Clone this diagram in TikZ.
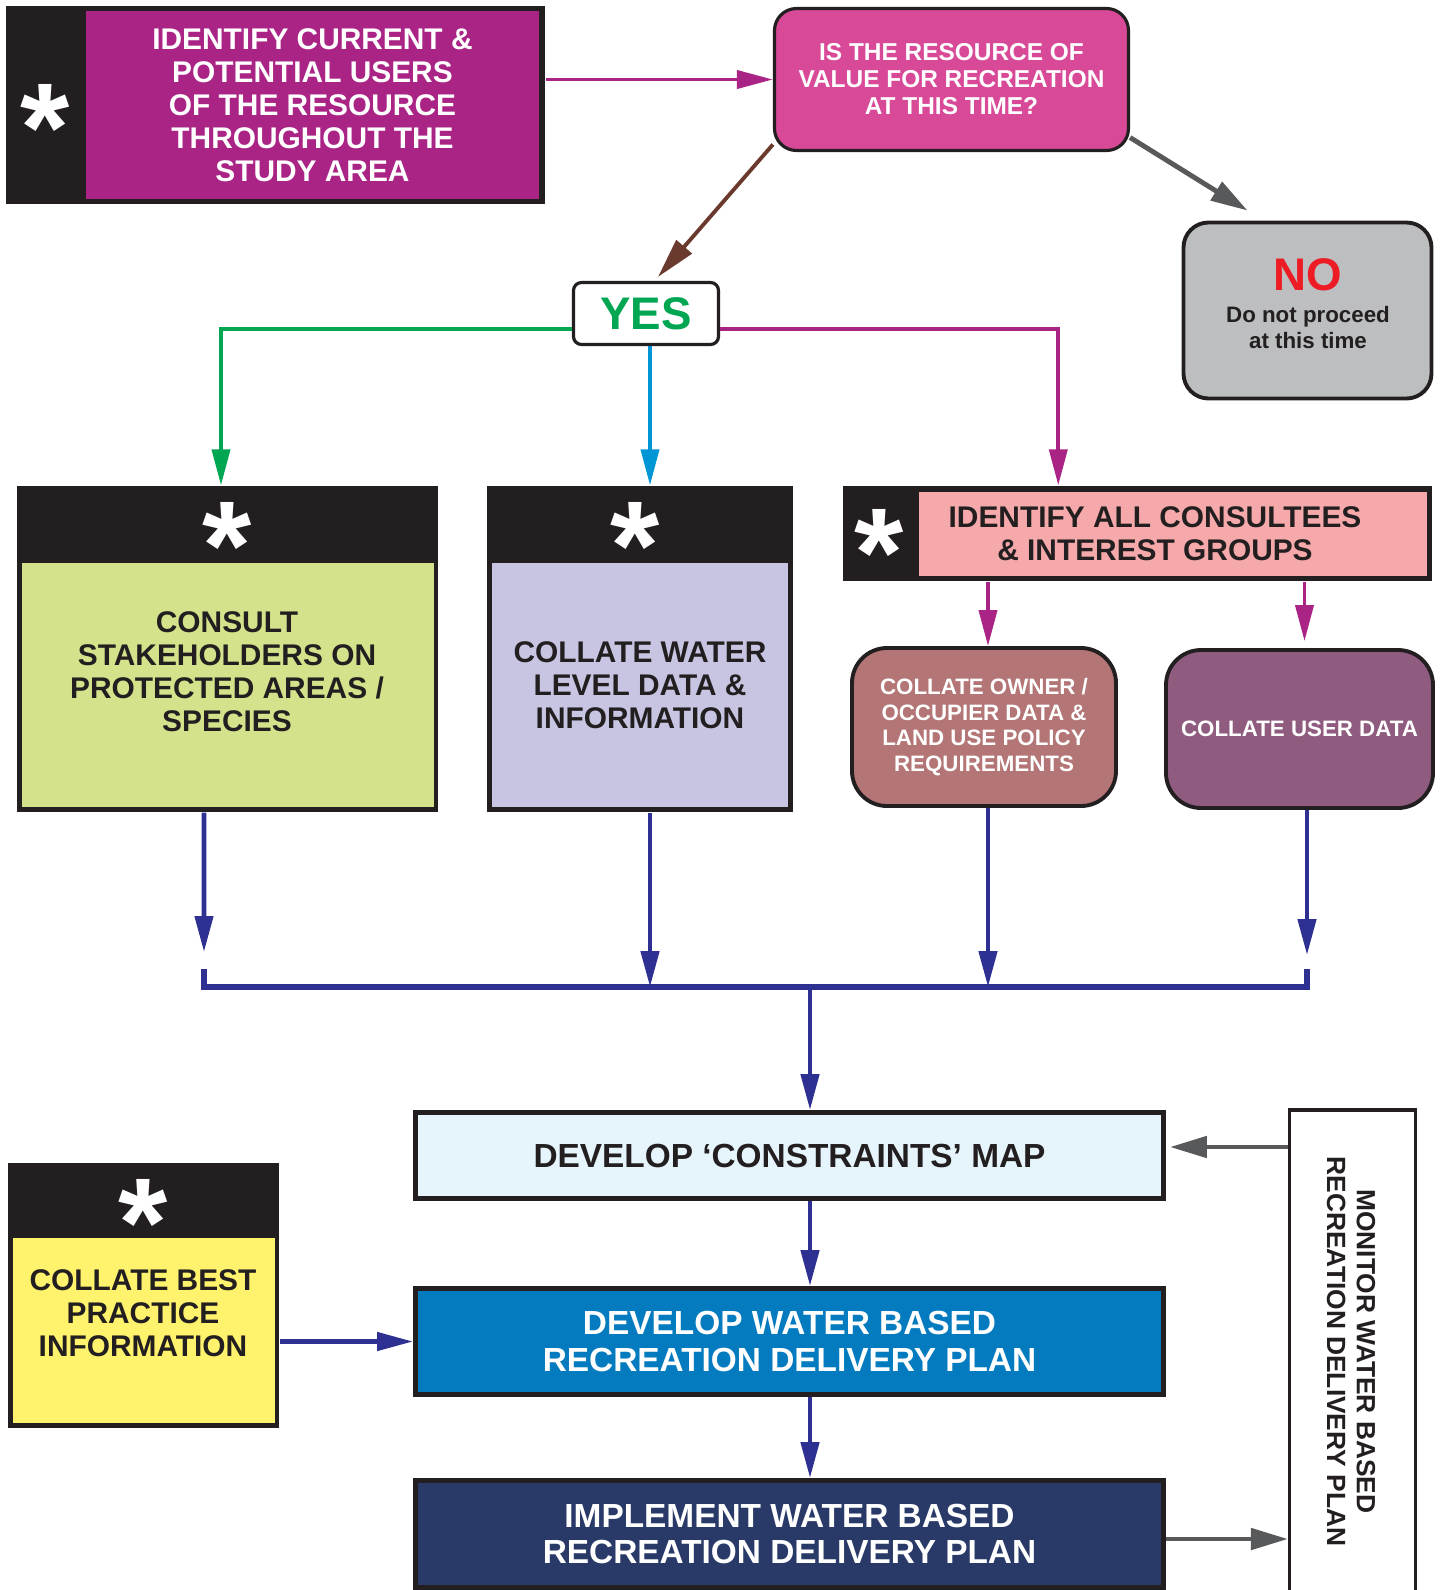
\documentclass[tikz,border=0pt]{standalone}
\usepackage{fontspec}
\setmainfont{Liberation Sans}
\usetikzlibrary{arrows.meta,calc}

\definecolor{ink}{HTML}{231F20}
\definecolor{plum}{HTML}{AA2486}
\definecolor{rose}{HTML}{D84A98}
\definecolor{stone}{HTML}{BCBEC0}
\definecolor{nored}{HTML}{ED1C24}
\definecolor{leaf}{HTML}{00A651}
\definecolor{sky}{HTML}{0096D6}
\definecolor{rust}{HTML}{6B3A2E}
\definecolor{lime}{HTML}{D4E38B}
\definecolor{lilac}{HTML}{C8C5E2}
\definecolor{blush}{HTML}{F5A9AA}
\definecolor{clay}{HTML}{B37575}
\definecolor{mauve}{HTML}{8F5C80}
\definecolor{navy}{HTML}{2E3192}
\definecolor{ice}{HTML}{E6F4FC}
\definecolor{ocean}{HTML}{057BBF}
\definecolor{deep}{HTML}{293A68}
\definecolor{sun}{HTML}{FFF36D}
\definecolor{slate}{HTML}{58595B}

\begin{document}
\begin{tikzpicture}[
    hdr/.style={fill=ink, inner sep=0pt},
    pane/.style={inner sep=0pt, align=center},
    star/.style={text=white, anchor=base, inner sep=0pt, yshift=-6.4mm, font=\bfseries\fontsize{36}{36}\selectfont},
    words/.style={align=center, inner sep=0pt, text=ink, font=\bfseries\fontsize{8.5}{9.4}\selectfont},
    plan/.style={draw=ink, line width=1.4pt, inner sep=0pt, align=center, font=\bfseries\fontsize{9.5}{10.5}\selectfont},
    pill/.style={draw=ink, line width=1.1pt, rounded corners=0.35cm, inner sep=0pt, align=center, text=white, font=\bfseries\fontsize{6.35}{7.25}\selectfont},
    link/.style={line width=1.1pt, -{Triangle[length=3.6mm,width=1.8mm]}},
    feed/.style={link, navy, line width=1.3pt},
    back/.style={line width=1.4pt, slate, -{Triangle[length=3.7mm,width=2.1mm]}}
]
        % Page
        \fill[white] (0,0) rectangle (14.43,-15.90);
        \useasboundingbox (0,0) rectangle (14.43,-15.90);

        % Users
        \node[hdr, minimum width=5.39cm, minimum height=1.98cm] (users) at (2.755,-1.05) {};
        \node[pane, fill=plum, minimum width=4.53cm, minimum height=1.88cm, words, text=white] (usersin) at (3.125,-1.05) {IDENTIFY CURRENT \&\\POTENTIAL USERS\\OF THE RESOURCE\\THROUGHOUT THE\\STUDY AREA};
        \node[star] (usersstar) at (0.45,-1.07) {*};

        % Question
        \node[pill, fill=rose, rounded corners=0.22cm, line width=0.9pt, font=\bfseries\fontsize{6.95}{7.7}\selectfont, minimum width=3.54cm, minimum height=1.42cm] (quest) at (9.515,-0.795) {IS THE RESOURCE OF\\VALUE FOR RECREATION\\AT THIS TIME?};
        \draw[link, plum] (users.east |- quest.west) -- (quest.west);

        % No
        \node[pill, fill=stone, rounded corners=0.25cm, minimum width=2.48cm, minimum height=1.76cm] (no) at (13.075,-3.105) {};
        \node[text=nored, font=\bfseries\fontsize{13}{13}\selectfont] (notitle) at (13.08,-2.75) {NO};
        \node[align=center, text=ink, font=\bfseries\fontsize{6.35}{7.4}\selectfont] (notext) at (13.08,-3.28) {Do not proceed\\at this time};
        \draw[back] (quest.-18) -- ([xshift=6.6mm,yshift=1mm]no.north west);

        % Yes
        \node[draw=ink, line width=0.9pt, rounded corners=0.08cm, fill=white, inner sep=0pt, minimum width=1.45cm, minimum height=0.62cm, text=leaf, font=\bfseries\fontsize{13}{13}\selectfont] (yes) at (6.46,-3.135) {YES};
        \draw[link, rust, -{Triangle[length=4mm,width=2mm]}] (quest.200) -- ([xshift=1.2mm,yshift=0.4mm]yes.north);

        % Protected areas
        \node[hdr, minimum width=4.21cm, minimum height=3.26cm] (stake) at (2.275,-6.49) {};
        \node[pane, fill=lime, minimum width=4.12cm, minimum height=2.44cm] (stakein) at (2.28,-6.85) {};
        \node[words] (staketext) at (2.27,-6.72) {CONSULT\\STAKEHOLDERS ON\\PROTECTED AREAS /\\SPECIES};
        \node[star] (stakestar) at (2.27,-5.25) {*};
        \draw[link, leaf] ([yshift=-1.55mm]yes.west) -| ([xshift=-0.65mm]stake.north);

        % Water level
        \node[hdr, minimum width=3.06cm, minimum height=3.26cm] (water) at (6.40,-6.49) {};
        \node[pane, fill=lilac, minimum width=2.96cm, minimum height=2.44cm, words] (waterin) at (6.40,-6.85) {COLLATE WATER\\LEVEL DATA \&\\INFORMATION};
        \node[star] (waterstar) at (6.35,-5.25) {*};
        \draw[link, sky] ([xshift=0.4mm]yes.south) -- ([xshift=0.4mm]yes.south |- water.north);

        % Consultees
        \node[hdr, minimum width=5.89cm, minimum height=0.95cm] (cons) at (11.375,-5.335) {};
        \node[pane, fill=blush, minimum width=5.08cm, minimum height=0.84cm] (consin) at (11.73,-5.34) {};
        \node[words] (constext) at (11.55,-5.335) {IDENTIFY ALL CONSULTEES\\\& INTEREST GROUPS};
        \node[star] (consstar) at (8.79,-5.32) {*};
        \draw[link, plum] ([yshift=-1.55mm]yes.east) -| ([xshift=2.16cm]cons.north west);

        \node[pill, fill=clay, minimum width=2.64cm, minimum height=1.58cm] (owner) at (9.84,-7.27) {COLLATE OWNER /\\OCCUPIER DATA \&\\LAND USE POLICY\\REQUIREMENTS};
        \node[pill, fill=mauve, minimum width=2.67cm, minimum height=1.58cm] (user) at (12.995,-7.29) {COLLATE USER DATA};
        \draw[link, plum] ([xshift=0.4mm]owner.north |- cons.south) -- ([xshift=0.4mm]owner.north);
        \draw[link, plum, shorten >=0.7mm] ([xshift=0.5mm]user.north |- cons.south) -- ([xshift=0.5mm]user.north);

        % Gather
        \coordinate (busL) at (2.04,-9.87);
        \coordinate (busB) at (6.50,-9.87);
        \coordinate (busM) at (8.10,-9.87);
        \coordinate (busC) at (9.88,-9.87);
        \coordinate (busR) at (13.07,-9.87);
        \draw[feed] ([xshift=-2.35mm]stake.south) -- ([yshift=3.5mm]busL);
        \draw[feed] (busB |- water.south) -- (busB);
        \draw[feed] (busC |- owner.south) -- (busC);
        \draw[feed] (busR |- user.south) -- ([yshift=3.2mm]busR);
        \draw[navy, line width=1.5pt] ([yshift=1.8mm]busL) -- (busL) -- (busR) -- ([yshift=1.8mm]busR);

        % Plan
        \node[plan, fill=ice, text=ink, minimum width=7.48cm, minimum height=0.86cm] (constr) at (7.895,-11.555) {DEVELOP ‘CONSTRAINTS’ MAP};
        \node[plan, fill=ocean, text=white, minimum width=7.48cm, minimum height=1.06cm] (develop) at (7.895,-13.415) {DEVELOP WATER BASED\\RECREATION DELIVERY PLAN};
        \node[plan, fill=deep, text=white, minimum width=7.48cm, minimum height=1.07cm] (impl) at (7.895,-15.34) {IMPLEMENT WATER BASED\\RECREATION DELIVERY PLAN};
        \draw[feed] (busM) -- (busM |- constr.north);
        \draw[feed] (busM |- constr.south) -- (busM |- develop.north);
        \draw[feed] (busM |- develop.south) -- (busM |- impl.north);

        % Best practice
        \node[hdr, minimum width=2.71cm, minimum height=2.65cm] (best) at (1.435,-12.955) {};
        \node[pane, fill=sun, minimum width=2.62cm, minimum height=1.85cm] (bestin) at (1.44,-13.305) {};
        \node[words] (besttext) at (1.43,-13.135) {COLLATE BEST\\PRACTICE\\INFORMATION};
        \node[star] (beststar) at (1.43,-12.02) {*};
        \draw[feed] (best.east |- develop.west) -- (develop.west);

        % Monitor
        \node[draw=ink, line width=0.9pt, fill=white, inner sep=0pt, minimum width=1.26cm, minimum height=4.9cm] (monitor) at (13.525,-13.55) {};
        \node[rotate=-90, align=center, text=ink, font=\bfseries\fontsize{7.5}{8.5}\selectfont] (montext) at (13.51,-13.515) {MONITOR WATER BASED\\RECREATION DELIVERY PLAN};
        \draw[back] ($(monitor.west |- constr.east)+(0,0.085)$) -- ($(constr.east)+(0.04,0.085)$);
        \draw[back] ($(impl.east)+(0,-0.05)$) -- ($(monitor.west |- impl.east)+(0,-0.05)$);
\end{tikzpicture}
\end{document}
